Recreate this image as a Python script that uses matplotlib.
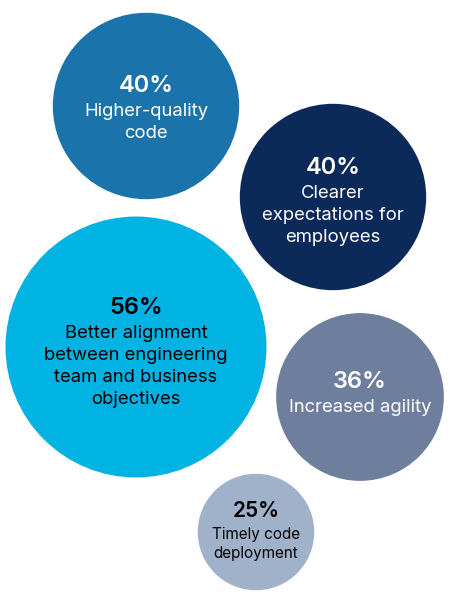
import matplotlib
matplotlib.use("Agg")
import matplotlib.pyplot as plt
from matplotlib.patches import Circle

plt.rcParams['font.family'] = ['Inter', 'DejaVu Sans']

# data
values = [40, 40, 56, 36, 25]
labels = ["Higher-quality\ncode",
          "Clearer\nexpectations for\nemployees",
          "Better alignment\nbetween engineering\nteam and business\nobjectives",
          "Increased agility",
          "Timely code\ndeployment"]

# layout (pixel space) and style
centers = [(146, 106), (333, 197), (136, 347), (360, 397), (256, 532)]
text_shift = [0, 2, 4, -5, -2]
colors = ["#1a74ab", "#0b2a5a", "#00b3e3", "#6e7f9e", "#a0b1ca"]
text_colors = ["white", "white", "black", "white", "black"]
small = [False, False, False, False, True]
scale = 2.33  # px radius per percentage point

fig = plt.figure(figsize=(4.51, 6.04), dpi=100)
ax = fig.add_axes([0, 0, 1, 1])
ax.set_xlim(0, 451)
ax.set_ylim(604, 0)
ax.set_aspect('equal')
ax.axis('off')

for v, lab, (cx, cy), dy, c, tc, sm in zip(values, labels, centers, text_shift,
                                             colors, text_colors, small):
    ax.add_patch(Circle((cx, cy), v * scale, color=c, lw=0))
    lines = lab.split("\n")
    if sm:
        ps, ls, cap, gap, lh = 15, 11, 15, 22, 19
    else:
        ps, ls, cap, gap, lh = 17, 13.3, 17, 24, 22
    span = cap + gap + lh * (len(lines) - 1)
    base = cy + dy - span / 2 + cap
    ax.text(cx, base, f"{v}%", color=tc, fontsize=ps,
            fontweight='semibold', ha='center', va='baseline')
    for i, line in enumerate(lines):
        ax.text(cx, base + gap + i * lh, line, color=tc, fontsize=ls,
                ha='center', va='baseline')

fig.savefig("out.png", dpi=100)
